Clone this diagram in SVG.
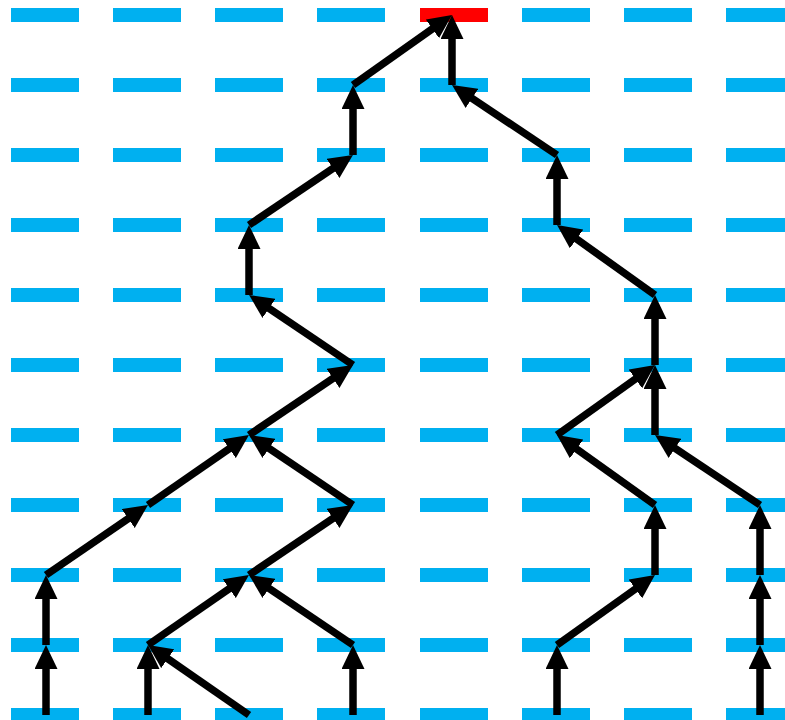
<svg xmlns="http://www.w3.org/2000/svg" width="785" height="720" viewBox="0 0 785 720">
<defs>
<style>
.d{fill:#00B0F0}
.r{fill:#FF0000}
.e{stroke:#000;stroke-width:7.5;fill:none;marker-end:url(#ah)}
</style>
<marker id="ah" markerUnits="userSpaceOnUse" markerWidth="24" markerHeight="23" refX="12" refY="11.5" orient="auto" viewBox="0 0 24 23">
<path d="M0,0 L24,11.5 L0,23 Z" fill="#000"/>
</marker>
<rect id="dash" class="d" x="0" y="-7" width="68" height="14"/>
</defs>
<rect width="785" height="720" fill="#fff"/>
<g id="grid">
<g id="row0">
<use id="n0_0" href="#dash" x="11" y="15"/><use id="n1_0" href="#dash" x="113" y="15"/><use id="n2_0" href="#dash" x="215" y="15"/><use id="n3_0" href="#dash" x="317" y="15"/>
<g id="n4_0"><rect class="r" x="420" y="8" width="68" height="14"/></g>
<use id="n5_0" href="#dash" x="522" y="15"/><use id="n6_0" href="#dash" x="624" y="15"/><use id="n7_0" href="#dash" x="726" y="15"/>
</g>
<g id="row1"><use id="n0_1" href="#dash" x="11" y="85"/><use id="n1_1" href="#dash" x="113" y="85"/><use id="n2_1" href="#dash" x="215" y="85"/><use id="n3_1" href="#dash" x="317" y="85"/><use id="n4_1" href="#dash" x="420" y="85"/><use id="n5_1" href="#dash" x="522" y="85"/><use id="n6_1" href="#dash" x="624" y="85"/><use id="n7_1" href="#dash" x="726" y="85"/></g>
<g id="row2"><use id="n0_2" href="#dash" x="11" y="155"/><use id="n1_2" href="#dash" x="113" y="155"/><use id="n2_2" href="#dash" x="215" y="155"/><use id="n3_2" href="#dash" x="317" y="155"/><use id="n4_2" href="#dash" x="420" y="155"/><use id="n5_2" href="#dash" x="522" y="155"/><use id="n6_2" href="#dash" x="624" y="155"/><use id="n7_2" href="#dash" x="726" y="155"/></g>
<g id="row3"><use id="n0_3" href="#dash" x="11" y="225"/><use id="n1_3" href="#dash" x="113" y="225"/><use id="n2_3" href="#dash" x="215" y="225"/><use id="n3_3" href="#dash" x="317" y="225"/><use id="n4_3" href="#dash" x="420" y="225"/><use id="n5_3" href="#dash" x="522" y="225"/><use id="n6_3" href="#dash" x="624" y="225"/><use id="n7_3" href="#dash" x="726" y="225"/></g>
<g id="row4"><use id="n0_4" href="#dash" x="11" y="295"/><use id="n1_4" href="#dash" x="113" y="295"/><use id="n2_4" href="#dash" x="215" y="295"/><use id="n3_4" href="#dash" x="317" y="295"/><use id="n4_4" href="#dash" x="420" y="295"/><use id="n5_4" href="#dash" x="522" y="295"/><use id="n6_4" href="#dash" x="624" y="295"/><use id="n7_4" href="#dash" x="726" y="295"/></g>
<g id="row5"><use id="n0_5" href="#dash" x="11" y="365"/><use id="n1_5" href="#dash" x="113" y="365"/><use id="n2_5" href="#dash" x="215" y="365"/><use id="n3_5" href="#dash" x="317" y="365"/><use id="n4_5" href="#dash" x="420" y="365"/><use id="n5_5" href="#dash" x="522" y="365"/><use id="n6_5" href="#dash" x="624" y="365"/><use id="n7_5" href="#dash" x="726" y="365"/></g>
<g id="row6"><use id="n0_6" href="#dash" x="11" y="435"/><use id="n1_6" href="#dash" x="113" y="435"/><use id="n2_6" href="#dash" x="215" y="435"/><use id="n3_6" href="#dash" x="317" y="435"/><use id="n4_6" href="#dash" x="420" y="435"/><use id="n5_6" href="#dash" x="522" y="435"/><use id="n6_6" href="#dash" x="624" y="435"/><use id="n7_6" href="#dash" x="726" y="435"/></g>
<g id="row7"><use id="n0_7" href="#dash" x="11" y="505"/><use id="n1_7" href="#dash" x="113" y="505"/><use id="n2_7" href="#dash" x="215" y="505"/><use id="n3_7" href="#dash" x="317" y="505"/><use id="n4_7" href="#dash" x="420" y="505"/><use id="n5_7" href="#dash" x="522" y="505"/><use id="n6_7" href="#dash" x="624" y="505"/><use id="n7_7" href="#dash" x="726" y="505"/></g>
<g id="row8"><use id="n0_8" href="#dash" x="11" y="575"/><use id="n1_8" href="#dash" x="113" y="575"/><use id="n2_8" href="#dash" x="215" y="575"/><use id="n3_8" href="#dash" x="317" y="575"/><use id="n4_8" href="#dash" x="420" y="575"/><use id="n5_8" href="#dash" x="522" y="575"/><use id="n6_8" href="#dash" x="624" y="575"/><use id="n7_8" href="#dash" x="726" y="575"/></g>
<g id="row9"><use id="n0_9" href="#dash" x="11" y="645"/><use id="n1_9" href="#dash" x="113" y="645"/><use id="n2_9" href="#dash" x="215" y="645"/><use id="n3_9" href="#dash" x="317" y="645"/><use id="n4_9" href="#dash" x="420" y="645"/><use id="n5_9" href="#dash" x="522" y="645"/><use id="n6_9" href="#dash" x="624" y="645"/><use id="n7_9" href="#dash" x="726" y="645"/></g>
<g id="row10"><use id="n0_10" href="#dash" x="11" y="715"/><use id="n1_10" href="#dash" x="113" y="715"/><use id="n2_10" href="#dash" x="215" y="715"/><use id="n3_10" href="#dash" x="317" y="715"/><use id="n4_10" href="#dash" x="420" y="715"/><use id="n5_10" href="#dash" x="522" y="715"/><use id="n6_10" href="#dash" x="624" y="715"/><use id="n7_10" href="#dash" x="726" y="715"/></g>
</g>
<g id="connectors">
<path class="e" d="M46,715 L46,657"/>
<path class="e" d="M46,645 L46,587"/>
<path class="e" d="M46,575 L138.1,511.8"/>
<path class="e" d="M148,505 L239.1,441.8"/>
<path class="e" d="M148,715 L148,657"/>
<path class="e" d="M249,715 L157.9,651.8"/>
<path class="e" d="M148,645 L239.1,581.8"/>
<path class="e" d="M353,715 L353,657"/>
<path class="e" d="M353,645 L259,581.7"/>
<path class="e" d="M249,575 L343,511.7"/>
<path class="e" d="M353,505 L259,441.7"/>
<path class="e" d="M249,435 L343,371.7"/>
<path class="e" d="M353,365 L259,301.7"/>
<path class="e" d="M249,295 L249,237"/>
<path class="e" d="M249,225 L343,161.7"/>
<path class="e" d="M353,155 L353,97"/>
<path class="e" d="M353,85 L442.2,21.9"/>
<path class="e" d="M557,715 L557,657"/>
<path class="e" d="M557,645 L645.2,582"/>
<path class="e" d="M655,575 L655,517"/>
<path class="e" d="M655,505 L566.8,442"/>
<path class="e" d="M557,435 L645.2,372"/>
<path class="e" d="M760,715 L760,657"/>
<path class="e" d="M760,645 L760,587"/>
<path class="e" d="M760,575 L760,517"/>
<path class="e" d="M760,505 L665,441.7"/>
<path class="e" d="M655,435 L655,377"/>
<path class="e" d="M655,365 L655,307"/>
<path class="e" d="M655,295 L566.8,232"/>
<path class="e" d="M557,225 L557,167"/>
<path class="e" d="M557,155 L462,91.7"/>
<path class="e" d="M452,85 L452,27"/>
</g>
</svg>
